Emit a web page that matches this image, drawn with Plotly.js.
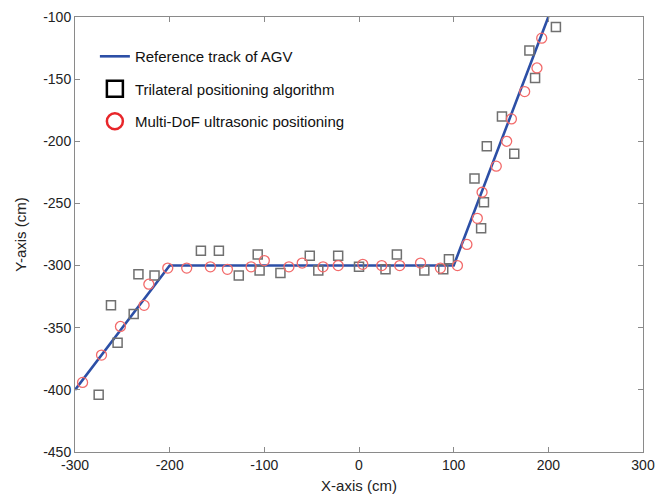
<!DOCTYPE html>
<html>
<head>
<meta charset="utf-8">
<script src="https://cdn.plot.ly/plotly-3.0.1.min.js"></script>
<style>html,body{margin:0;padding:0;background:#fff;}#chart{width:659px;height:497px;}</style>
</head>
<body>
<div id="chart"></div>
<script>
// Reference track of AGV
const trackX = [-300, -200, 100, 200];
const trackY = [-400, -300, -300, -100];

// Trilateral positioning algorithm
const triX = [-275, -262, -255, -238, -233, -216, -167, -148, -127, -107, -105, -83, -52, -43, -22, 0, 28, 40, 69, 89, 95, 122, 129, 132, 135, 151, 164, 180, 186, 208];
const triY = [-404, -332, -362, -339, -307, -308, -288, -288, -308, -291, -304, -306, -292, -304, -292, -301, -303, -291, -304, -303, -295, -230, -270, -249, -204, -180, -210, -127, -149, -108];

// Multi-DoF ultrasonic positioning
const dofX = [-292, -272, -252, -227, -222, -202, -182, -157, -139, -114, -100, -74, -60, -38, -22, 4, 24, 43, 65, 86, 104, 114, 125, 130, 145, 156, 161, 175, 188, 193];
const dofY = [-394, -372, -349, -332, -315, -302, -302, -301, -303, -301, -296, -301, -298, -301, -300, -299, -300, -300, -298, -302, -300, -283, -262, -241, -220, -200, -182, -160, -141, -117];

// Axis ticks
const xTickVals = [-300, -200, -100, 0, 100, 200, 300];
const xTickText = ['-300', '-200', '-100', '0', '100', '200', '300'];
const yTickVals = [-450, -400, -350, -300, -250, -200, -150, -100];
const yTickText = ['-450', '-400', '-350', '-300', '-250', '-200', '-150', '-100'];

const names = ['Reference track of AGV', 'Trilateral positioning algorithm', 'Multi-DoF ultrasonic positioning'];

const traces = [
  {x: trackX, y: trackY, mode: 'lines', name: names[0], legendgroup: 'a',
   line: {color: '#2c4fa6', width: 2.6}, showlegend: true},
  {x: triX, y: triY, mode: 'markers', name: names[1], showlegend: false,
   marker: {symbol: 'square-open', size: 9, color: '#707070', line: {width: 1.5}}},
  {x: dofX, y: dofY, mode: 'markers', name: names[2], showlegend: false,
   marker: {symbol: 'circle-open', size: 10, color: '#f26a6a', line: {width: 1.3}}},
  // legend-only entries with larger, stronger symbols
  {x: [null], y: [null], mode: 'markers', name: names[1], legendgroup: 'b',
   marker: {symbol: 'square-open', size: 16, color: '#000000', line: {width: 2.5}}},
  {x: [null], y: [null], mode: 'markers', name: names[2], legendgroup: 'c',
   marker: {symbol: 'circle-open', size: 16, color: '#e8262a', line: {width: 2.5}}}
];

const axisCommon = {
  showgrid: false, zeroline: false, showline: true, mirror: 'ticks',
  linecolor: '#8a8a8a', linewidth: 1, ticks: 'inside', ticklen: 5,
  tickcolor: '#8a8a8a', tickfont: {family: 'Liberation Sans, Arial, sans-serif', size: 14, color: '#222'}
};

const layout = {
  width: 659, height: 497,
  margin: {l: 75, r: 16, t: 17, b: 45},
  paper_bgcolor: '#fff', plot_bgcolor: '#fff',
  font: {family: 'Liberation Sans, Arial, sans-serif', color: '#222'},
  xaxis: Object.assign({}, axisCommon, {
    range: [-300, 300], tickvals: xTickVals, ticktext: xTickText,
    title: {text: 'X-axis (cm)', font: {size: 15, color: '#222'}, standoff: 8}
  }),
  yaxis: Object.assign({}, axisCommon, {
    range: [-450, -100], tickvals: yTickVals, ticktext: yTickText,
    title: {text: 'Y-axis (cm)', font: {size: 15, color: '#222'}, standoff: 12}
  }),
  legend: {
    x: 0.035, y: 0.947, xanchor: 'left', yanchor: 'top',
    bgcolor: 'rgba(0,0,0,0)', borderwidth: 0,
    font: {size: 15, color: '#111'}, tracegroupgap: 10, traceorder: 'grouped',
    itemwidth: 30
  },
  showlegend: true
};

Plotly.newPlot('chart', traces, layout, {displayModeBar: false, staticPlot: true});
</script>
</body>
</html>
